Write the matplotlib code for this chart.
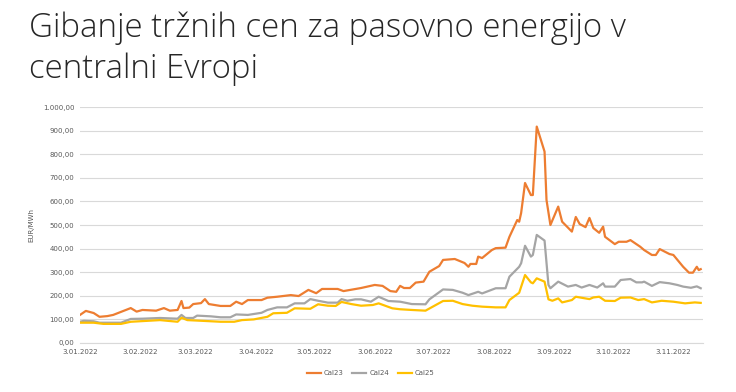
import matplotlib
matplotlib.use("Agg")
import matplotlib.pyplot as plt
import matplotlib.dates as mdates
from matplotlib.ticker import FuncFormatter
import pandas as pd

# Cal23 (orange)
cal23_dates = ["2022-01-03", "2022-01-06", "2022-01-10", "2022-01-13", "2022-01-17", "2022-01-20",
               "2022-01-29", "2022-02-01", "2022-02-04", "2022-02-11", "2022-02-15", "2022-02-18",
               "2022-02-22", "2022-02-24", "2022-02-25", "2022-02-28", "2022-03-02", "2022-03-06",
               "2022-03-08", "2022-03-10", "2022-03-16", "2022-03-21", "2022-03-24", "2022-03-27",
               "2022-03-30", "2022-04-06", "2022-04-09", "2022-04-14", "2022-04-21", "2022-04-25",
               "2022-04-30", "2022-05-04", "2022-05-07", "2022-05-15", "2022-05-18", "2022-05-27",
               "2022-06-03", "2022-06-07", "2022-06-11", "2022-06-14", "2022-06-16", "2022-06-18",
               "2022-06-21", "2022-06-24", "2022-06-28", "2022-07-01", "2022-07-06", "2022-07-08",
               "2022-07-14", "2022-07-19", "2022-07-21", "2022-07-22", "2022-07-25", "2022-07-26",
               "2022-07-28", "2022-08-02", "2022-08-04", "2022-08-09", "2022-08-11", "2022-08-15",
               "2022-08-16", "2022-08-17", "2022-08-19", "2022-08-22", "2022-08-23", "2022-08-25",
               "2022-08-29", "2022-08-30", "2022-09-01", "2022-09-05", "2022-09-07", "2022-09-12",
               "2022-09-14", "2022-09-16", "2022-09-19", "2022-09-21", "2022-09-23", "2022-09-26",
               "2022-09-28", "2022-09-29", "2022-10-04", "2022-10-06", "2022-10-10", "2022-10-12",
               "2022-10-17", "2022-10-19", "2022-10-23", "2022-10-25", "2022-10-27", "2022-11-01",
               "2022-11-03", "2022-11-08", "2022-11-11", "2022-11-13", "2022-11-15", "2022-11-16",
               "2022-11-17"]
cal23 = [119, 136, 127, 111, 114, 119,
         148, 133, 140, 137, 148, 137,
         140, 178, 148, 150, 165, 169,
         186, 165, 157, 157, 175, 165,
         182, 182, 192, 196, 203, 199,
         225, 211, 229, 229, 220, 233,
         246, 242, 220, 217, 242, 233,
         233, 256, 260, 302, 326, 352,
         356, 339, 323, 335, 335, 366,
         360, 394, 402, 404, 450, 521,
         514, 551, 678, 627, 627, 917,
         811, 606, 500, 578, 514, 472,
         534, 504, 491, 530, 487, 467,
         493, 450, 419, 429, 429, 436,
         408, 394, 373, 373, 398, 377,
         373, 323, 298, 298, 323, 309,
         313]

# Cal24 (grey)
cal24_dates = ["2022-01-03", "2022-01-05", "2022-01-10", "2022-01-13", "2022-01-24", "2022-01-29",
               "2022-02-04", "2022-02-13", "2022-02-22", "2022-02-24", "2022-02-26", "2022-03-02",
               "2022-03-04", "2022-03-11", "2022-03-16", "2022-03-21", "2022-03-24", "2022-03-30",
               "2022-04-06", "2022-04-09", "2022-04-14", "2022-04-19", "2022-04-23", "2022-04-28",
               "2022-05-01", "2022-05-05", "2022-05-10", "2022-05-15", "2022-05-17", "2022-05-20",
               "2022-05-24", "2022-05-27", "2022-06-01", "2022-06-05", "2022-06-10", "2022-06-16",
               "2022-06-22", "2022-06-29", "2022-07-01", "2022-07-08", "2022-07-13", "2022-07-18",
               "2022-07-21", "2022-07-26", "2022-07-28", "2022-08-04", "2022-08-09", "2022-08-11",
               "2022-08-16", "2022-08-17", "2022-08-19", "2022-08-22", "2022-08-23", "2022-08-25",
               "2022-08-29", "2022-08-31", "2022-09-01", "2022-09-05", "2022-09-10", "2022-09-14",
               "2022-09-17", "2022-09-21", "2022-09-25", "2022-09-28", "2022-09-29", "2022-10-04",
               "2022-10-07", "2022-10-12", "2022-10-15", "2022-10-18", "2022-10-19", "2022-10-23",
               "2022-10-27", "2022-11-01", "2022-11-05", "2022-11-08", "2022-11-12", "2022-11-15",
               "2022-11-17"]
cal24 = [90, 94, 92, 86, 86, 102,
         103, 106, 103, 119, 106, 106,
         116, 113, 109, 109, 121, 119,
         128, 140, 151, 151, 168, 168,
         186, 179, 171, 171, 186, 179,
         185, 185, 175, 196, 178, 175,
         165, 164, 185, 227, 225, 213,
         203, 217, 210, 232, 232, 281,
         323, 338, 412, 366, 373, 458,
         434, 246, 232, 260, 239, 246,
         235, 246, 235, 253, 239, 239,
         267, 271, 257, 257, 260, 242,
         258, 253, 246, 239, 234, 240,
         232]

# Cal25 (yellow)
cal25_dates = ["2022-01-03", "2022-01-10", "2022-01-15", "2022-01-24", "2022-01-29", "2022-02-13",
               "2022-02-22", "2022-02-24", "2022-02-27", "2022-03-09", "2022-03-16", "2022-03-23",
               "2022-03-27", "2022-04-02", "2022-04-09", "2022-04-12", "2022-04-19", "2022-04-23",
               "2022-05-01", "2022-05-05", "2022-05-10", "2022-05-14", "2022-05-17", "2022-05-22",
               "2022-05-27", "2022-06-02", "2022-06-05", "2022-06-12", "2022-06-16", "2022-06-22",
               "2022-06-29", "2022-07-08", "2022-07-13", "2022-07-18", "2022-07-23", "2022-07-28",
               "2022-08-04", "2022-08-09", "2022-08-11", "2022-08-16", "2022-08-19", "2022-08-22",
               "2022-08-23", "2022-08-25", "2022-08-29", "2022-08-31", "2022-09-02", "2022-09-05",
               "2022-09-07", "2022-09-12", "2022-09-14", "2022-09-21", "2022-09-23", "2022-09-26",
               "2022-09-29", "2022-10-04", "2022-10-07", "2022-10-12", "2022-10-16", "2022-10-19",
               "2022-10-23", "2022-10-28", "2022-11-03", "2022-11-09", "2022-11-14", "2022-11-17"]
cal25 = [86, 86, 81, 81, 90, 97,
         90, 107, 97, 93, 90, 90,
         97, 100, 111, 126, 128, 147,
         145, 164, 158, 157, 174, 165,
         158, 161, 168, 147, 143, 140,
         137, 178, 179, 165, 158, 154,
         151, 151, 182, 213, 288, 257,
         253, 274, 260, 185, 179, 189,
         172, 182, 196, 186, 193, 196,
         179, 178, 192, 193, 182, 186,
         172, 179, 175, 168, 172, 170]

series = [("Cal23", cal23_dates, cal23, "#ED7D31"),
          ("Cal24", cal24_dates, cal24, "#A5A5A5"),
          ("Cal25", cal25_dates, cal25, "#FFC000")]

# ticks on the 3rd of each month
tick_dates = pd.date_range("2022-01-01", "2022-11-01", freq="MS") + pd.Timedelta(days=2)

text_grey = "#595959"

fig = plt.figure(figsize=(7.36, 3.92), dpi=100)
fig.text(0.04, 0.97, "Gibanje tržnih cen za pasovno energijo v\ncentralni Evropi",
         fontsize=23.8, family="Open Sans", fontweight="light", color="#262626",
         va="top", ha="left", linespacing=1.3)

ax = fig.add_axes([0.1087, 0.125, 0.846, 0.602])
for name, dates, vals, color in series:
    ax.plot(pd.to_datetime(dates), vals, color=color, lw=1.6, label=name)

ax.set_ylim(0, 1000)
ax.set_yticks(range(0, 1001, 100))
ax.yaxis.set_major_formatter(FuncFormatter(
    lambda v, p: f"{v:,.2f}".replace(",", "X").replace(".", ",").replace("X", ".")))
ax.set_xlim(pd.Timestamp("2022-01-03"), pd.Timestamp("2022-11-18"))
ax.set_xticks(tick_dates)
ax.xaxis.set_major_formatter(FuncFormatter(
    lambda v, p: (lambda d: f"{d.day}.{d.month:02d}.{d.year}")(mdates.num2date(v))))

ax.grid(axis="y", color="#D9D9D9", lw=0.8)
ax.set_axisbelow(True)
for s in ["top", "right", "left"]:
    ax.spines[s].set_visible(False)
ax.spines["bottom"].set_color("#D9D9D9")
ax.tick_params(axis="both", length=0, labelsize=5, colors=text_grey, pad=4)
ax.set_ylabel("EUR/MWh", fontsize=5, color=text_grey, labelpad=6)

ax.legend(loc="upper center", bbox_to_anchor=(0.467, -0.09), ncol=3, frameon=False,
          fontsize=5, labelcolor=text_grey, handlelength=2.0, columnspacing=1.2,
          handletextpad=0.5)

fig.savefig("out.png", dpi=100, facecolor="white")
